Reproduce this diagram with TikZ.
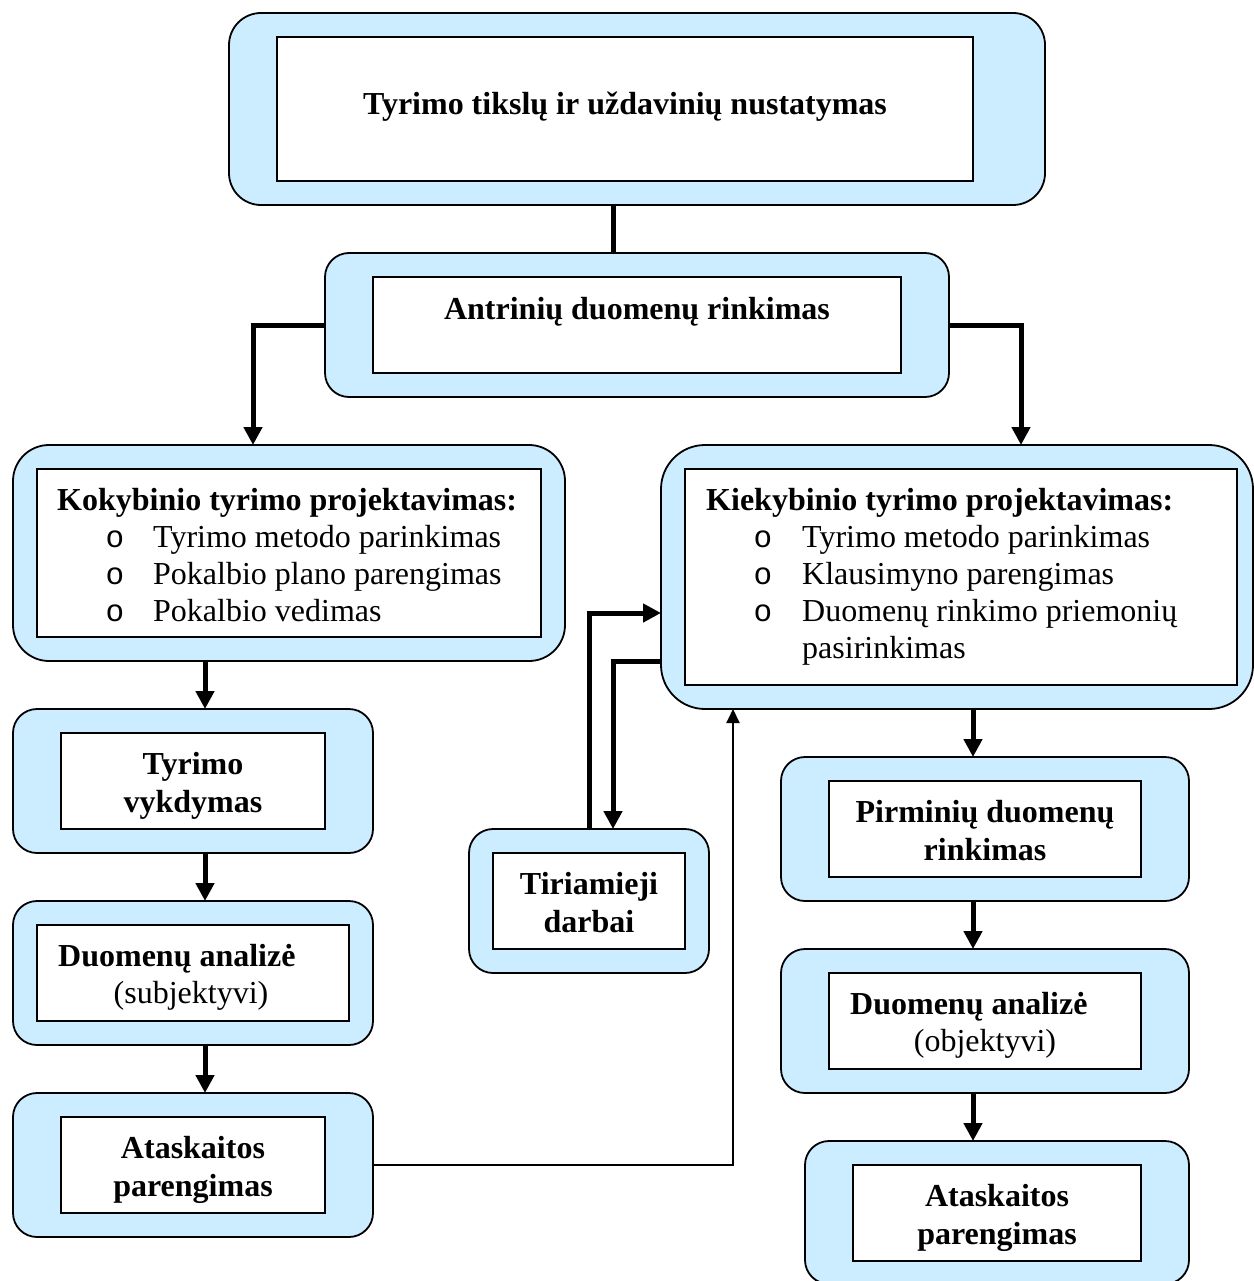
\documentclass[tikz,border=0pt]{standalone}
\usepackage{fontspec}
\setmainfont{Liberation Serif}
\newfontfamily\bulletfont{Liberation Mono}
\usetikzlibrary{arrows.meta}
\definecolor{panelblue}{RGB}{204,236,255}

\tikzset{
  panel/.style={draw, line width=1.8pt, fill=panelblue, rounded corners=#1,
                inner sep=0pt, outer sep=0pt},
  card/.style={draw, line width=1.8pt, fill=white, inner sep=0pt, outer sep=0pt},
  txt/.style={inner sep=0pt, anchor=base, font=\fontsize{32}{37}\selectfont},
  txtb/.style={txt, font=\fontsize{32}{37}\selectfont\bfseries},
  txtl/.style={txt, anchor=base west},
  txtbl/.style={txtb, anchor=base west},
  bul/.style={txt, font=\fontsize{31}{37}\selectfont\bulletfont},
  boldline/.style={line width=5pt},
  boldarrow/.style={line width=5pt, -{Triangle[width=18pt,length=18pt]}},
  thinarrow/.style={line width=2pt, -{Triangle[width=13pt,length=14pt]}},
}

\begin{document}
\begin{tikzpicture}[x=1pt,y=-1pt]
\useasboundingbox (0,0) rectangle (1253,1281);

% ---- outer rounded panels and inner white cards
\node[panel=32pt, minimum width=816pt, minimum height=192pt] (top) at (637,109) {};
\node[card, minimum width=696pt, minimum height=144pt] (topin) at (625,109) {};

\node[panel=24pt, minimum width=624pt, minimum height=144pt] (antr) at (637,325) {};
\node[card, minimum width=528pt, minimum height=96pt] (antrin) at (637,325) {};

\node[panel=36pt, minimum width=552pt, minimum height=216pt] (kok) at (289,553) {};
\node[card, minimum width=504pt, minimum height=168pt] (kokin) at (289,553) {};

\node[panel=44pt, minimum width=592pt, minimum height=264pt] (kie) at (957,577) {};
\node[card, minimum width=552pt, minimum height=216pt] (kiein) at (961,577) {};

\node[panel=24pt, minimum width=360pt, minimum height=144pt] (vyk) at (193,781) {};
\node[card, minimum width=264pt, minimum height=96pt] (vykin) at (193,781) {};

\node[panel=24pt, minimum width=360pt, minimum height=144pt] (anl) at (193,973) {};
\node[card, minimum width=312pt, minimum height=96pt] (anlin) at (193,973) {};

\node[panel=24pt, minimum width=360pt, minimum height=144pt] (ata) at (193,1165) {};
\node[card, minimum width=264pt, minimum height=96pt] (atain) at (193,1165) {};

\node[panel=24pt, minimum width=240pt, minimum height=144pt] (tir) at (589,901) {};
\node[card, minimum width=192pt, minimum height=96pt] (tirin) at (589,901) {};

\node[panel=24pt, minimum width=408pt, minimum height=144pt] (pir) at (985,829) {};
\node[card, minimum width=312pt, minimum height=96pt] (pirin) at (985,829) {};

\node[panel=24pt, minimum width=408pt, minimum height=144pt] (anr) at (985,1021) {};
\node[card, minimum width=312pt, minimum height=96pt] (anrin) at (985,1021) {};

\node[panel=24pt, minimum width=384pt, minimum height=143pt] (atr) at (997,1212.5) {};
\node[card, minimum width=288pt, minimum height=96pt] (atrin) at (997,1213) {};

% ---- texts
\node[txtb] (ttop) at (625,115) {Tyrimo tikslų ir uždavinių nustatymas};
\node[txtb] (tantr) at (637,319) {Antrinių duomenų rinkimas};

\node[txtbl] (tkok) at (57,510) {Kokybinio tyrimo projektavimas:};
\node[bul] (bk1) at (115,547) {o};
\node[bul] (bk2) at (115,584) {o};
\node[bul] (bk3) at (115,621) {o};
\node[txtl] (k1) at (153,547) {Tyrimo metodo parinkimas};
\node[txtl] (k2) at (153,584) {Pokalbio plano parengimas};
\node[txtl] (k3) at (153,621) {Pokalbio vedimas};

\node[txtbl] (tkie) at (706,510) {Kiekybinio tyrimo projektavimas:};
\node[bul] (be1) at (763,547) {o};
\node[bul] (be2) at (763,584) {o};
\node[bul] (be3) at (763,621) {o};
\node[txtl] (e1) at (802,547) {Tyrimo metodo parinkimas};
\node[txtl] (e2) at (802,584) {Klausimyno parengimas};
\node[txtl] (e3) at (802,621) {Duomenų rinkimo priemonių};
\node[txtl] (e4) at (802,658) {pasirinkimas};

\node[txtb] (v1) at (193,774) {Tyrimo};
\node[txtb] (v2) at (193,812) {vykdymas};

\node[txtbl] (a1) at (58,966) {Duomenų analizė};
\node[txt] (a2) at (191,1003) {(subjektyvi)};

\node[txtb] (r1) at (193,1158) {Ataskaitos};
\node[txtb] (r2) at (193,1196) {parengimas};

\node[txtb] (d1) at (589,894) {Tiriamieji};
\node[txtb] (d2) at (589,932) {darbai};

\node[txtb] (p1) at (985,822) {Pirminių duomenų};
\node[txtb] (p2) at (985,860) {rinkimas};

\node[txtbl] (o1) at (850,1014) {Duomenų analizė};
\node[txt] (o2) at (985,1051) {(objektyvi)};

\node[txtb] (s1) at (997,1206) {Ataskaitos};
\node[txtb] (s2) at (997,1244) {parengimas};

% ---- connectors
\draw[boldline] ([xshift=-24pt]top.south) -- ([xshift=-24pt]top.south |- antr.north);
\draw[boldarrow] (antr.west) -| ([xshift=-36pt]kok.north);
\draw[boldarrow] (antr.east) -| ([xshift=64pt]kie.north);

\draw[boldarrow] ([xshift=12pt]vyk.north |- kok.south) -- ([xshift=12pt]vyk.north);
\draw[boldarrow] ([xshift=12pt]anl.north |- vyk.south) -- ([xshift=12pt]anl.north);
\draw[boldarrow] ([xshift=12pt]ata.north |- anl.south) -- ([xshift=12pt]ata.north);

\draw[thinarrow] (ata.east) -| ([xshift=-224pt]kie.south);

\draw[boldarrow] (tir.north) |- ([yshift=-36pt]kie.west);
\draw[boldarrow] ([yshift=-84pt]kie.west) -| ([xshift=24pt]tir.north);

\draw[boldarrow] ([xshift=-12pt]pir.north |- kie.south) -- ([xshift=-12pt]pir.north);
\draw[boldarrow] ([xshift=-12pt]anr.north |- pir.south) -- ([xshift=-12pt]anr.north);
\draw[boldarrow] ([xshift=-24pt]atr.north |- anr.south) -- ([xshift=-24pt]atr.north);
\end{tikzpicture}
\end{document}
